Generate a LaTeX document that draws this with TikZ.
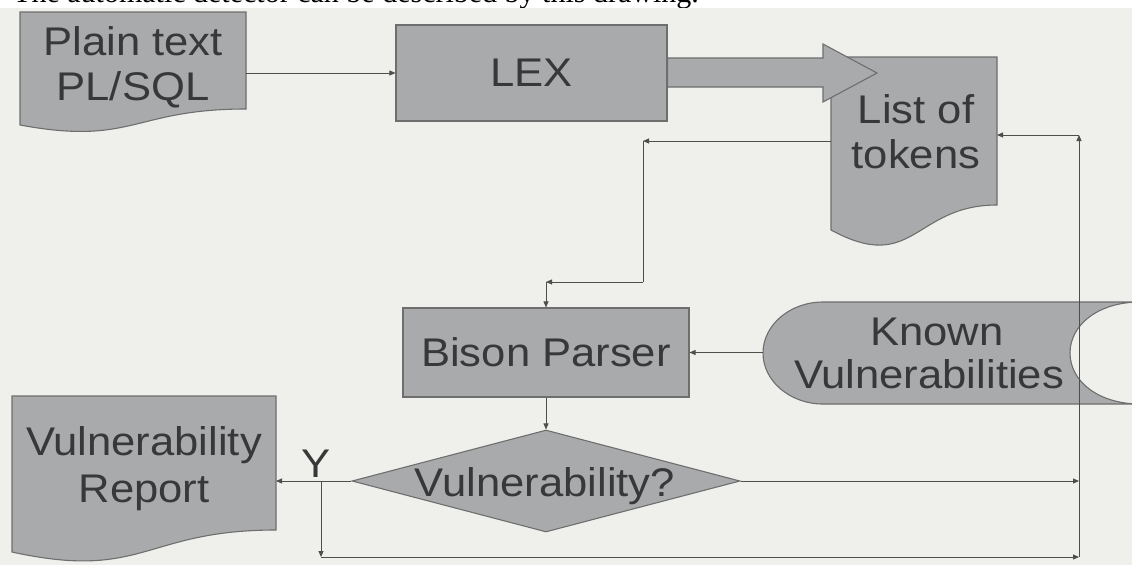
\documentclass[tikz,border=0pt]{standalone}
\usepackage{fontspec}
\setmainfont{Liberation Sans}
\newfontfamily\capserif{Liberation Serif}
\usetikzlibrary{arrows.meta,shapes.geometric}
\definecolor{bg}{HTML}{EFEFEB}
\definecolor{shapefill}{HTML}{A8AAAC}
\definecolor{shapeline}{HTML}{6E6E6E}
\definecolor{txt}{HTML}{383838}
\definecolor{conn}{HTML}{4E4E4E}
\newcommand\wide[1]{\scalebox{1.09}[1]{#1}}
\begin{document}
\begin{tikzpicture}[x=1pt,y=-1pt,
  shp/.style={fill=shapefill,draw=shapeline,line width=1.1pt},
  lbl/.style={text=txt,font=\fontsize{40}{44}\selectfont,inner sep=0pt},
  con/.style={draw=conn,line width=0.9pt,-{Triangle[length=6pt,width=5pt]}},
  ln/.style={draw=conn,line width=0.9pt},
  boxnode/.style={shp,rectangle,inner sep=0pt,text=txt,font=\fontsize{40}{44}\selectfont},
]
\path[use as bounding box,fill=white] (0,0) rectangle (1132,565);
\begin{scope}
\clip (0,0) rectangle (1132,8);
\node[overlay,anchor=base west,inner sep=0pt,font=\capserif\fontsize{30}{34}\selectfont] (caption) at (13,2.5) {The automatic detector can be described by this drawing.};
\end{scope}
\fill[bg] (0,8) rectangle (1132,565);

% Plain text document
\path[shp] (20,12) -- (246,12) -- (246,109) .. controls (133,109) and (133,146) .. (20,125) -- cycle;
\node[lbl,anchor=base] (plainA) at (133,55) {\wide{Plain text}};
\node[lbl,anchor=base] (plainB) at (133,100) {\wide{PL/SQL}};
\coordinate (plainE) at (246,73);

% LEX
\node[boxnode,minimum width=271pt,minimum height=96pt] (lex) at (531.5,73) {\wide{LEX}};

% List of tokens document
\path[shp] (831,57) -- (997,57) -- (997,205) .. controls (914,205) and (914,275) .. (831,230) -- cycle;
\node[lbl,anchor=base] (listA) at (916,123) {\wide{List of}};
\node[lbl,anchor=base] (listB) at (916,168) {\wide{tokens}};
\coordinate (listW) at (831,141);
\coordinate (listE) at (997,135);

% block arrow LEX -> list
\path[shp] (lex.east |- 0,58) -- (823,58) -- (823,44) -- (877,73) -- (823,102) -- (823,87) -- (lex.east |- 0,87) -- cycle;

% Bison Parser
\node[boxnode,minimum width=286pt,minimum height=89pt] (bison) at (546,352.5) {\wide{Bison Parser}};

% Known vulnerabilities (stored data)
\begin{scope}
\clip (0,0) rectangle (1132,565);
\path[shp] (823,302) -- (1140,302) .. controls (1098,302) and (1070,325) .. (1070,353)
  .. controls (1070,381) and (1098,404) .. (1140,404) -- (823,404)
  .. controls (790,404) and (763,381) .. (763,353)
  .. controls (763,325) and (790,302) .. (823,302) -- cycle;
\end{scope}
\node[lbl,anchor=base] (knownA) at (937,345) {\wide{Known}};
\node[lbl,anchor=base] (knownB) at (929,388) {\wide{Vulnerabilities}};
\coordinate (knownW) at (763,352.5);

% Decision diamond
\node[shp,diamond,minimum width=388pt,minimum height=102pt,inner sep=0pt] (dia) at (546,481) {};
\node[lbl,anchor=base] (diaT) at (545,496) {\wide{Vulnerability?}};

% Vulnerability report document
\begin{scope}
\clip (0,0) rectangle (1132,565);
\path[shp] (12,396) -- (276,396) -- (276,530) .. controls (144,530) and (144,581) .. (12,552) -- cycle;
\end{scope}
\node[lbl,anchor=base] (repA) at (144,455) {\wide{Vulnerability}};
\node[lbl,anchor=base] (repB) at (144,502) {\wide{Report}};
\coordinate (repE) at (276,481);

% connectors
\draw[con] (plainE) -- (lex.west);
\coordinate (b1) at (643,141);
\coordinate (b2) at (643,282);
\coordinate (b3) at (546,282);
\draw[con] (listW) -- (b1);
\draw[ln] (b1) -- (b2);
\draw[con] (b2) -- (b3);
\draw[con] (b3) -- (bison.north);
\draw[con] (knownW) -- (bison.east);
\draw[con] (bison.south) -- (dia.north);
\draw[con] (dia.west) -- (repE);
\node[lbl,anchor=base] (ylab) at (316,477) {\wide{Y}};
\coordinate (j) at (321,481);
\coordinate (jd) at (321,557);
\coordinate (r1) at (1079,557);
\coordinate (r2) at (1079,481);
\coordinate (r3) at (1079,135);
\draw[con] (j) -- (jd);
\draw[con] (jd) -- (r1);
\draw[con] (dia.east) -- (r2);
\draw[con] (r1) -- (r3);
\draw[con] (r3) -- (listE);
\end{tikzpicture}
\end{document}
